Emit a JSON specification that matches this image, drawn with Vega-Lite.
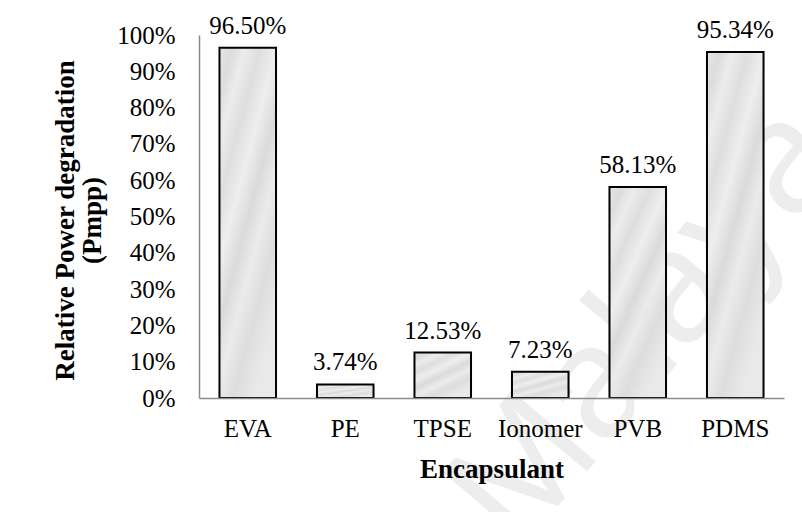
{
  "$schema": "https://vega.github.io/schema/vega-lite/v6.json",
  "width": 585,
  "height": 363,
  "autosize": {"type": "none"},
  "padding": {"left": 199, "top": 35, "right": 18, "bottom": 114},
  "background": "white",
  "config": {
    "view": {"stroke": null},
    "font": "Liberation Serif",
    "text": {"font": "Liberation Serif"}
  },
  "datasets": {
    "degradation": [
      {"encapsulant": "EVA", "value": 0.965},
      {"encapsulant": "PE", "value": 0.0374},
      {"encapsulant": "TPSE", "value": 0.1253},
      {"encapsulant": "Ionomer", "value": 0.0723},
      {"encapsulant": "PVB", "value": 0.5813},
      {"encapsulant": "PDMS", "value": 0.9534}
    ],
    "mark_text": [
      {"encapsulant": "PVB", "value": 0.17, "label": "Malaya"}
    ]
  },
  "encoding": {
    "x": {
      "field": "encapsulant",
      "type": "nominal",
      "sort": null,
      "scale": {
        "domain": ["EVA", "PE", "TPSE", "Ionomer", "PVB", "PDMS"],
        "paddingInner": 0.42,
        "paddingOuter": 0.21
      },
      "axis": {
        "zindex": 2,
        "title": "Encapsulant",
        "titleFont": "Liberation Serif",
        "titleFontSize": 27,
        "titleFontWeight": "bold",
        "titleColor": "black",
        "titleBaseline": "alphabetic",
        "titleY": 79,
        "labelAngle": 0,
        "labelFont": "Liberation Serif",
        "labelFontSize": 25,
        "labelColor": "black",
        "labelPadding": 18,
        "ticks": false,
        "tickSize": 0,
        "domainColor": "#8c8c8c",
        "domainWidth": 1.5
      }
    },
    "y": {
      "field": "value",
      "type": "quantitative",
      "scale": {"domain": [0, 1], "nice": false},
      "axis": {
        "zindex": 2,
        "title": ["Relative Power degradation", "(Pmpp)"],
        "titleFont": "Liberation Serif",
        "titleFontSize": 27,
        "titleFontWeight": "bold",
        "titleColor": "black",
        "titleAngle": -90,
        "titleAlign": "center",
        "titleBaseline": "middle",
        "titleLineHeight": 27,
        "titleX": -134,
        "titleY": 185,
        "format": "%",
        "values": [0, 0.1, 0.2, 0.3, 0.4, 0.5, 0.6, 0.7, 0.8, 0.9, 1],
        "labelFont": "Liberation Serif",
        "labelFontSize": 25,
        "labelColor": "black",
        "labelPadding": 24,
        "ticks": false,
        "tickSize": 0,
        "grid": false,
        "domainColor": "#8c8c8c",
        "domainWidth": 1.5
      }
    }
  },
  "layer": [
    {
      "data": {"name": "mark_text"},
      "mark": {
        "type": "text",
        "font": "Liberation Sans",
        "fontSize": 160,
        "angle": -50,
        "dx": 15,
        "color": "#ededed",
        "align": "center",
        "baseline": "middle",
        "clip": false,
        "zindex": 0
      },
      "encoding": {
        "text": {"field": "label"}
      }
    },
    {
      "data": {"name": "degradation"},
      "mark": {
        "type": "bar",
        "stroke": "black",
        "strokeWidth": 2,
        "color": {
          "gradient": "linear",
          "x1": 0, "y1": 0, "x2": 0.6, "y2": 1,
          "stops": [
            {"offset": 0, "color": "#e6e6e6"},
            {"offset": 0.1, "color": "#dcdcdc"},
            {"offset": 0.2, "color": "#ececec"},
            {"offset": 0.32, "color": "#dedede"},
            {"offset": 0.45, "color": "#eeeeee"},
            {"offset": 0.58, "color": "#dadada"},
            {"offset": 0.7, "color": "#ebebeb"},
            {"offset": 0.84, "color": "#dddddd"},
            {"offset": 1, "color": "#e9e9e9"}
          ]
        }
      }
    },
    {
      "data": {"name": "degradation"},
      "mark": {
        "type": "text",
        "baseline": "alphabetic",
        "dy": -14,
        "fontSize": 25,
        "color": "black",
        "font": "Liberation Serif"
      },
      "encoding": {
        "text": {"field": "value", "type": "quantitative", "format": ".2%"}
      }
    }
  ]
}
